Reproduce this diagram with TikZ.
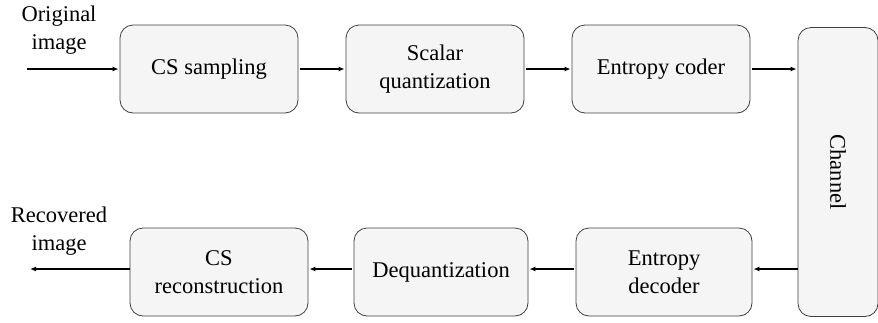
\documentclass[tikz,border=0pt]{standalone}
\usepackage{fontspec}
\setmainfont{Liberation Serif}
\usetikzlibrary{arrows.meta}
\begin{document}
\begin{tikzpicture}[x=1pt,y=-1pt,
  blk/.style={draw=black!75, line width=0.8pt, fill=black!4, rounded corners=13pt, align=center, font=\fontsize{22.5}{28}\selectfont},
  lbl/.style={align=center, font=\fontsize{22.5}{28}\selectfont},
  arr/.style={-{Latex[length=6pt,width=5pt]}, line width=1.2pt, shorten <=2pt, shorten >=1pt}]
\useasboundingbox (0,0) rectangle (878,322);
\node[blk, minimum width=178pt, minimum height=88pt] (cs) at (209,69) {CS sampling};
\node[blk, minimum width=178pt, minimum height=88pt] (sq) at (435,69) {Scalar\\quantization};
\node[blk, minimum width=178pt, minimum height=88pt] (ec) at (661,69) {Entropy coder};
\node[blk, minimum width=289pt, minimum height=80pt, rotate=-90] (ch) at (838,172) {Channel};
\node[blk, minimum width=176pt, minimum height=88pt] (ed) at (664,272) {Entropy\\decoder};
\node[blk, minimum width=174pt, minimum height=88pt] (dq) at (441,272) {Dequantization};
\node[blk, minimum width=178pt, minimum height=88pt] (cr) at (219,272) {CS\\reconstruction};
\node[lbl] (oi) at (59,30) {Original\\image};
\node[lbl] (ri) at (59,231) {Recovered\\image};
\coordinate (in) at (27,69);
\coordinate (out) at (30,269);
\coordinate (top) at (0,69);
\coordinate (bot) at (0,269);
\draw[arr, shorten <=0pt] (in) -- (cs.west |- top);
\draw[arr] (cs.east |- top) -- (sq.west |- top);
\draw[arr] (sq.east |- top) -- (ec.west |- top);
\draw[arr] (ec.east |- top) -- (ch.south |- top);
\draw[arr, shorten <=0pt] (ch.south |- bot) -- (ed.east |- bot);
\draw[arr] (ed.west |- bot) -- (dq.east |- bot);
\draw[arr] (dq.west |- bot) -- (cr.east |- bot);
\draw[arr, shorten <=0pt, shorten >=0pt] (cr.west |- bot) -- (out);
\end{tikzpicture}
\end{document}
